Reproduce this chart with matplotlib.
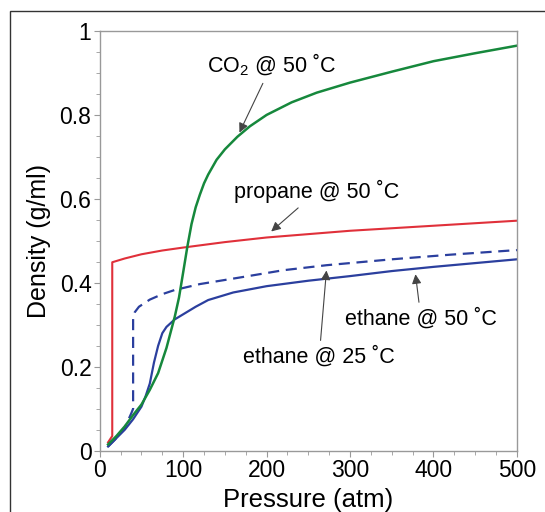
import matplotlib.pyplot as plt
from matplotlib.patches import Rectangle
from matplotlib.ticker import MultipleLocator

plt.rcParams['font.family'] = ['Liberation Sans', 'DejaVu Sans']
plt.rcParams['mathtext.fontset'] = 'custom'
plt.rcParams['mathtext.rm'] = 'Liberation Sans'

# density curves (pressure in atm, density in g/ml)
propane_p = [10, 15, 15, 30, 50, 75, 100, 150, 200, 300, 400, 500]
propane_d = [0.02, 0.035, 0.449, 0.458, 0.468, 0.477, 0.484, 0.497, 0.508, 0.524, 0.536, 0.548]

co2_p = [10, 20, 30, 40, 50, 60, 70, 80, 90, 95, 100, 105, 110, 115, 120, 125, 130, 140,
         150, 165, 180, 200, 230, 260, 300, 350, 400, 450, 500]
co2_d = [0.015, 0.035, 0.058, 0.085, 0.11, 0.145, 0.185, 0.245, 0.32, 0.365, 0.425, 0.486,
         0.54, 0.58, 0.61, 0.637, 0.658, 0.693, 0.718, 0.748, 0.773, 0.80, 0.83, 0.853, 0.877,
         0.903, 0.928, 0.947, 0.965]

ethane50_p = [10, 20, 30, 40, 50, 55, 60, 65, 70, 75, 80, 90, 100, 115, 130, 160, 200,
              250, 300, 350, 400, 450, 500]
ethane50_d = [0.01, 0.03, 0.05, 0.075, 0.105, 0.13, 0.16, 0.21, 0.25, 0.28, 0.295, 0.313,
              0.325, 0.343, 0.359, 0.377, 0.392, 0.405, 0.416, 0.428, 0.438, 0.447, 0.456]

ethane25_p = [10, 20, 30, 38, 40, 40, 42, 47, 60, 75, 90, 120, 172, 220, 272, 350, 420, 500]
ethane25_d = [0.01, 0.03, 0.055, 0.09, 0.1, 0.32, 0.33, 0.343, 0.36, 0.373, 0.383, 0.397,
              0.414, 0.43, 0.442, 0.456, 0.467, 0.478]

y_ticks = [0, 0.2, 0.4, 0.6, 0.8, 1]
y_labels = ['0', '0.2', '0.4', '0.6', '0.8', '1']

fig = plt.figure(figsize=(5.45, 5.12), dpi=100)
ax = fig.add_axes([0.183, 0.1197, 0.7655, 0.8198])

# outer frame of the figure
fig.patches.append(Rectangle((10 / 545, -0.01), 1.0, 1 - 11 / 512 + 0.01,
                             transform=fig.transFigure, fill=False,
                             edgecolor='#333333', lw=1.0))

ax.plot(propane_p, propane_d, color='#e0303a', lw=1.5)
ax.plot(ethane25_p, ethane25_d, color='#2b3f9e', lw=1.6, linestyle=(0, (5, 3)))
ax.plot(ethane50_p, ethane50_d, color='#2b3f9e', lw=1.6)
ax.plot(co2_p, co2_d, color='#16883c', lw=1.8)

ax.set_xlim(0, 500)
ax.set_ylim(0, 1)
ax.xaxis.set_major_locator(MultipleLocator(100))
ax.xaxis.set_minor_locator(MultipleLocator(25))
ax.set_yticks(y_ticks)
ax.set_yticklabels(y_labels)
ax.yaxis.set_minor_locator(MultipleLocator(0.05))

for s in ax.spines.values():
    s.set_color('#999999')
    s.set_linewidth(1.0)
ax.tick_params(which='both', direction='out', color='#999999', labelsize=16.5, pad=2)
ax.tick_params(which='major', length=4)
ax.tick_params(which='minor', length=3)

ax.set_xlabel('Pressure (atm)', fontsize=18.5, labelpad=4)
ax.set_ylabel('Density (g/ml)', fontsize=18, labelpad=6)

arrow = dict(arrowstyle='-|>', color='#444444', lw=0.8, mutation_scale=14)
fs = 15.5
ax.annotate('CO$_2$ @ 50 ˚C', xy=(166, 0.752), xytext=(206, 0.919),
            fontsize=fs, ha='center', va='center', arrowprops=arrow)
ax.annotate('propane @ 50 ˚C', xy=(203, 0.518), xytext=(260, 0.617),
            fontsize=fs, ha='center', va='center', arrowprops=arrow)
ax.annotate('ethane @ 50 ˚C', xy=(378, 0.427), xytext=(385, 0.315),
            fontsize=fs, ha='center', va='center', arrowprops=arrow)
ax.annotate('ethane @ 25 ˚C', xy=(272, 0.436), xytext=(263, 0.224),
            fontsize=fs, ha='center', va='center', arrowprops=arrow)

fig.savefig('out.png', dpi=100)
